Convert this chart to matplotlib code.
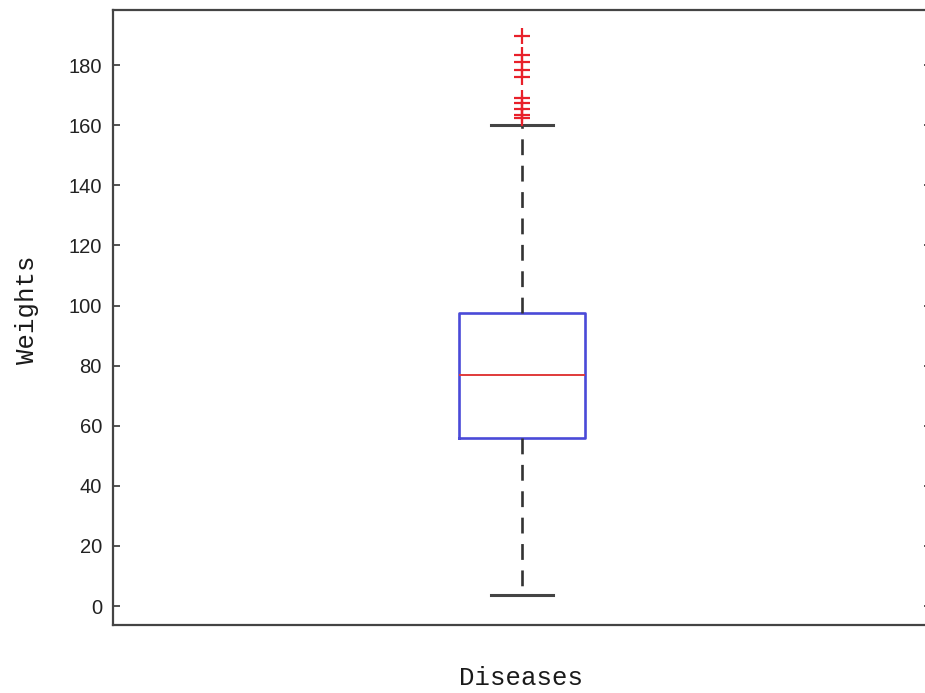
import matplotlib
matplotlib.use("Agg")
import matplotlib.pyplot as plt

# Summary statistics of the weight distribution
group_label = "Diseases"
median = 76.8
q1 = 55.8
q3 = 97.5
whisker_low = 3.7
whisker_high = 160.0
outliers = [189.5, 183.5, 181.0, 178.5, 176.0, 169.0, 167.5, 165.5, 163.5, 162.5]

y_ticks = [0, 20, 40, 60, 80, 100, 120, 140, 160, 180]

stats = [{
    "med": median, "q1": q1, "q3": q3,
    "whislo": whisker_low, "whishi": whisker_high,
    "fliers": outliers, "label": "",
}]

fig = plt.figure(figsize=(9.25, 6.93), dpi=100)
ax = fig.add_axes([0.1222, 0.0981, 0.8843, 0.8874])

ax.bxp(
    stats, positions=[1], widths=0.153, showfliers=True,
    boxprops=dict(color="#4a4ad8", linewidth=1.9),
    medianprops=dict(color="#e03a3a", linewidth=1.4),
    whiskerprops=dict(color="#333333", linewidth=1.9, linestyle=(0, (6, 4))),
    capprops=dict(color="#444444", linewidth=2.2),
    flierprops=dict(marker="+", markeredgecolor="#e8202a", markersize=11,
                    markeredgewidth=1.6, linestyle="none"),
)

ax.set_xlim(0.5, 1.5)
ax.set_ylim(-6.3, 198.3)
ax.set_xticks([])
ax.set_yticks(y_ticks)
ax.set_yticklabels([str(t) for t in y_ticks], family="Liberation Sans", fontsize=14.5,
                   color="#222222")
ax.tick_params(axis="y", direction="in", length=5, width=1.2, color="#333333",
               left=True, right=True, pad=8)

for side in ax.spines.values():
    side.set_color("#444444")
    side.set_linewidth(1.6)

fig.text(0.5632, 0.022, group_label, family="Liberation Mono", fontsize=18.5,
         ha="center", va="center", color="#1a1a1a")
fig.text(0.029, 0.553, "Weights", family="Liberation Mono", fontsize=18.5,
         ha="center", va="center", rotation=90, color="#1a1a1a")

fig.savefig("out.png", dpi=100, facecolor="white")
